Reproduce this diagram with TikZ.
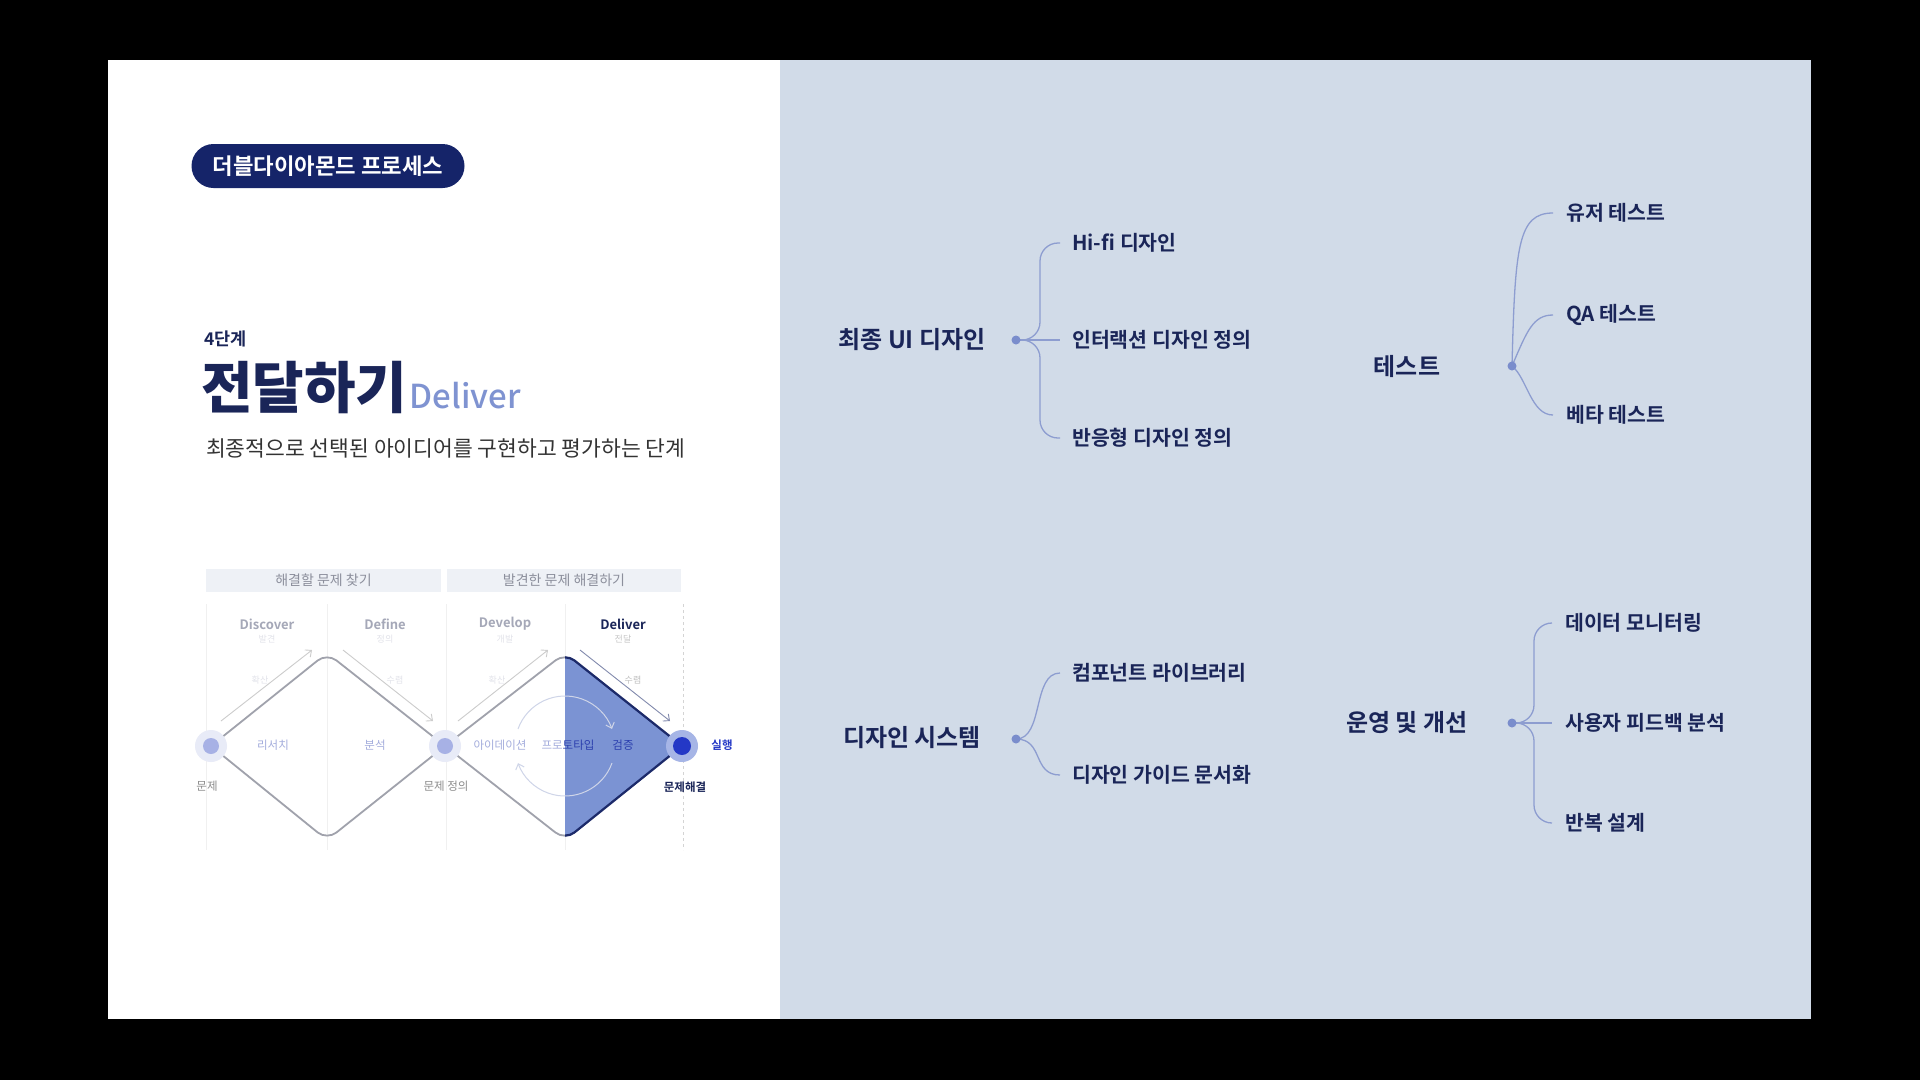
\documentclass[tikz,border=0pt]{standalone}
\usepackage{fontspec}
\setmainfont{Noto Sans CJK KR}[BoldFont={Noto Sans CJK KR Bold}]
\newfontfamily\heavyfont{Noto Sans CJK KR Black}
\newfontfamily\midfont{Noto Sans CJK KR Medium}
\usetikzlibrary{arrows.meta}
\definecolor{navy}{HTML}{1A2558}
\definecolor{badgenavy}{HTML}{152469}
\definecolor{delblue}{HTML}{7F93D1}
\definecolor{subgray}{HTML}{333333}
\definecolor{panel}{HTML}{D1DBE8}
\definecolor{branchcol}{HTML}{8D9DD0}
\definecolor{hubdot}{HTML}{7A8DCC}
\definecolor{barfill}{HTML}{EEF1F6}
\definecolor{bartext}{HTML}{8C8F9C}
\definecolor{phasegray}{HTML}{A5A8B8}
\definecolor{faint}{HTML}{E2E3EA}
\definecolor{edgegray}{HTML}{A0A2AC}
\definecolor{halfblue}{HTML}{7B93D3}
\definecolor{edgenavy}{HTML}{1C2A6A}
\definecolor{vivid}{HTML}{2438C6}
\definecolor{halolight}{HTML}{E8EBF7}
\definecolor{halodark}{HTML}{A6B5E6}
\definecolor{dotlight}{HTML}{A7B1E5}
\definecolor{lbllight}{HTML}{A3ACDC}
\definecolor{lbldark}{HTML}{2B3FAE}
\definecolor{cycle}{HTML}{CFD5E8}

\begin{document}
\begin{tikzpicture}[x=1pt, y=-1pt, >={Straight Barb[length=5pt,width=9pt]},
    head/.style={font=\bfseries\fontsize{24}{28}\selectfont, text=navy},
    leaf/.style={anchor=west, inner sep=0pt, font=\bfseries\fontsize{20.5}{24}\selectfont, text=navy},
    branch/.style={draw=branchcol, line width=1.3pt},
    brace/.style={branch, rounded corners=18pt},
    bar/.style={fill=barfill, minimum height=23pt, inner sep=0pt, text=bartext, font=\fontsize{14}{16}\selectfont},
    phase/.style={font=\bfseries\fontsize{13}{15}\selectfont, text=phasegray},
    tiny/.style={font=\fontsize{9}{10}\selectfont, text=faint},
    small/.style={font=\fontsize{11.5}{13}\selectfont},
    guide/.style={draw=black!6, line width=0.8pt},
    flow/.style={draw=black!20, line width=0.9pt, ->},
    dia/.style={draw=edgegray, line width=1.8pt, rounded corners=12pt},
    cyc/.style={draw=cycle, line width=1pt, ->}]

\useasboundingbox (0,0) rectangle (1920,1080);
\fill[black] (0,0) rectangle (1920,1080);
\fill[white] (108,60) rectangle (780,1019);
\fill[panel] (780,60) rectangle (1811,1019);

% left panel
\node[fill=badgenavy, rounded corners=22pt, minimum width=273pt, minimum height=44pt,
      text=white, font=\bfseries\fontsize{22.3}{24}\selectfont] (badge) at (328,166) {더블다이아몬드 프로세스};
\node[anchor=west, inner sep=0pt, font=\bfseries\fontsize{17.5}{19}\selectfont, text=navy] (stagenum) at (204,339) {4단계};
\node[anchor=base west, inner sep=0pt, font=\heavyfont\fontsize{56}{62}\selectfont, text=navy] (title) at (201,408) {전달하기};
\node[anchor=base west, inner sep=0pt, font=\midfont\fontsize{33}{36}\selectfont, text=delblue] (titleen) at ([xshift=2pt]title.base east) {Deliver};
\node[anchor=west, inner sep=0pt, font=\fontsize{21.5}{24}\selectfont, text=subgray] (sub) at (206,448) {최종적으로 선택된 아이디어를 구현하고 평가하는 단계};

% double diamond
\node[bar, minimum width=235pt] (hb1) at (323.5,580) {해결할 문제 찾기};
\node[bar, minimum width=234pt] (hb2) at (564,580) {발견한 문제 해결하기};
\foreach \gx in {206,327,446,565}
  \draw[guide] (\gx,604) -- (\gx,850);
\draw[draw=black!17, line width=0.9pt, dashed] (683,604) -- (683,850);

\node[phase] (ph1) at (267,624) {Discover};
\node[phase] (ph2) at (385,624) {Define};
\node[phase] (ph3) at (505,624) {Develop};
\node[phase, text=navy] (ph4) at (623,624) {Deliver};
\node[tiny] at (267,639) {발견};
\node[tiny] at (385,639) {정의};
\node[tiny] at (505,639) {개발};
\node[tiny, text=black!22] at (623,639) {전달};

\coordinate (p0) at (211,746);
\coordinate (t1) at (327,653);
\coordinate (p1) at (445,746);
\coordinate (b1) at (327,840);
\coordinate (t2) at (565,653);
\coordinate (p2) at (682,746);
\coordinate (b2) at (565,840);

\draw[dia] (p0) -- (t1) -- (p1) -- (b1) -- cycle;
\draw[dia] (p1) -- (t2) -- (p2) -- (b2) -- cycle;
\begin{scope}
  \clip (565,600) rectangle (720,860);
  \fill[halfblue, rounded corners=12pt] (p1) -- (t2) -- (p2) -- (b2) -- cycle;
  \draw[dia, draw=edgenavy, line width=2.2pt] (p1) -- (t2) -- (p2) -- (b2) -- cycle;
\end{scope}

\draw[flow] (221,721) -- (312,650);
\draw[flow] (343,650) -- (433,721);
\draw[flow] (458,721) -- (548,650);
\draw[flow, draw=edgenavy!55] (580,650) -- (670,721);
\node[tiny] at (260,680) {확산};
\node[tiny] at (395,680) {수렴};
\node[tiny] at (497,680) {확산};
\node[tiny, text=black!25] at (633,680) {수렴};

\coordinate (cc) at (565,746);
\draw[cyc] (cc) ++(200:50) arc (200:340:50);
\draw[cyc] (cc) ++(20:50) arc (20:160:50);

\fill[halolight] (p0) circle (16);
\fill[dotlight] (p0) circle (8);
\fill[halolight] (p1) circle (16);
\fill[dotlight] (p1) circle (8);
\fill[halodark] (p2) circle (16);
\fill[vivid] (p2) circle (9);

\node[small, text=lbllight] (res) at (273,745) {리서치};
\node[small, text=lbllight] (ana) at (375,745) {분석};
\node[small, text=lbllight] (idea) at (500,745) {아이데이션};
\node[small] (proto) at (568,745) {\color{lbllight}프로\color{lbldark}토타입};
\node[small, text=lbldark] (veri) at (623,745) {검증};
\node[small, text=black!45] (lprob) at (207,786) {문제};
\node[small, text=black!45] (ldef) at (446,786) {문제 정의};
\node[small, text=navy, font=\bfseries\fontsize{11.5}{13}\selectfont] (lsol) at (685,787) {문제해결};
\node[small, text=vivid, font=\bfseries\fontsize{11.5}{13}\selectfont] (lrun) at (722,745) {실행};

% right panel
\node[head] (ui) at (912,340) {최종 UI 디자인};
\coordinate (d1) at (1016,340);
\node[leaf] (hifi) at (1072,243) {Hi-fi 디자인};
\node[leaf] (inter) at (1072,340) {인터랙션 디자인 정의};
\node[leaf] (resp) at (1072,438) {반응형 디자인 정의};
\draw[brace] (d1) -| ([xshift=-32pt]hifi.west) -- ([xshift=-12pt]hifi.west);
\draw[branch] (d1) -- ([xshift=-12pt]inter.west);
\draw[brace] (d1) -| ([xshift=-32pt]resp.west) -- ([xshift=-12pt]resp.west);
\fill[hubdot] (d1) circle (4.5);

\node[head] (test) at (1407,366) {테스트};
\coordinate (d2) at (1512,366);
\node[leaf] (ut) at (1566,213) {유저 테스트};
\node[leaf] (qa) at (1566,315) {QA 테스트};
\node[leaf] (beta) at (1566,415) {베타 테스트};
\draw[branch] (d2) .. controls +(3,-120) and +(-35,0) .. ([xshift=-13pt]ut.west);
\draw[branch] (d2) .. controls +(15,-35) and +(-20,0) .. ([xshift=-13pt]qa.west);
\draw[branch] (d2) .. controls +(15,12) and +(-22,0) .. ([xshift=-13pt]beta.west);
\fill[hubdot] (d2) circle (4.5);

\node[head] (ds) at (912,738) {디자인 시스템};
\coordinate (d3) at (1016,739);
\node[leaf] (comp) at (1072,673) {컴포넌트 라이브러리};
\node[leaf] (guidedoc) at (1072,775) {디자인 가이드 문서화};
\draw[branch] (d3) .. controls +(28,0) and +(-28,0) .. ([xshift=-12pt]comp.west);
\draw[branch] (d3) .. controls +(28,0) and +(-28,0) .. ([xshift=-12pt]guidedoc.west);
\fill[hubdot] (d3) circle (4.5);

\node[head] (ops) at (1407,722) {운영 및 개선};
\coordinate (d4) at (1512,723);
\node[leaf] (mon) at (1565,623) {데이터 모니터링};
\node[leaf] (fb) at (1565,723) {사용자 피드백 분석};
\node[leaf] (rep) at (1565,823) {반복 설계};
\draw[brace] (d4) -| ([xshift=-31pt]mon.west) -- ([xshift=-13pt]mon.west);
\draw[branch] (d4) -- ([xshift=-13pt]fb.west);
\draw[brace] (d4) -| ([xshift=-31pt]rep.west) -- ([xshift=-13pt]rep.west);
\fill[hubdot] (d4) circle (4.5);
\end{tikzpicture}
\end{document}
